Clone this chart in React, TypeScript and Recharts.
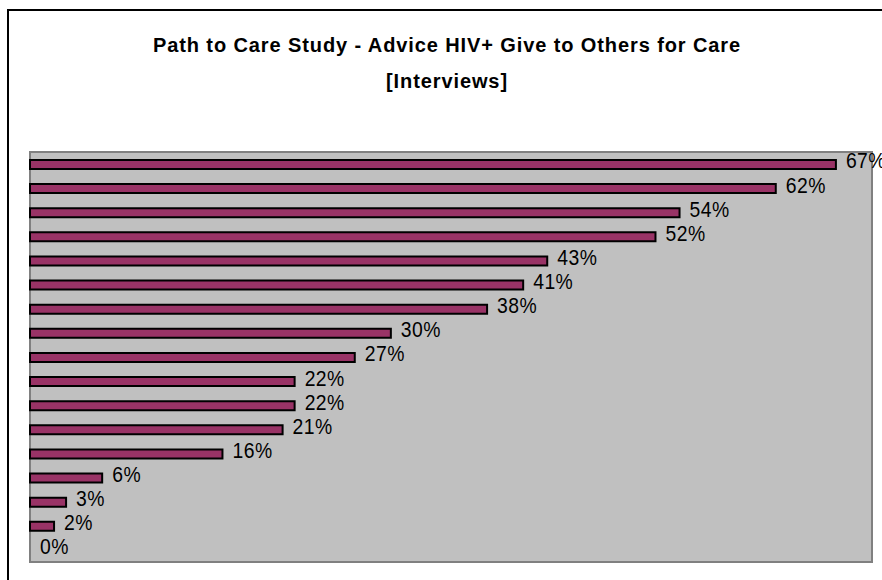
import { BarChart, Bar, Cell, XAxis, YAxis, CartesianGrid, ReferenceArea, LabelList } from "recharts";

const categories = [
  "Item 1", "Item 2", "Item 3", "Item 4", "Item 5", "Item 6", "Item 7", "Item 8", "Item 9",
  "Item 10", "Item 11", "Item 12", "Item 13", "Item 14", "Item 15", "Item 16", "Item 17",
];
const percents = [67, 62, 54, 52, 43, 41, 38, 30, 27, 22, 22, 21, 16, 6, 3, 2, 0];

const data = categories.map((name, i) => ({ name, value: percents[i] }));

const font = "'Liberation Sans', Arial, sans-serif";

// value label sits to the right of each bar, nudged up, squeezed a bit
const renderLabel = (props: any) => {
  const { x, y, width, height, value } = props;
  const lx = Number(x) + Number(width) + 10;
  const ly = Number(y) + Number(height) / 2 - 4;
  return (
    <text
      transform={`translate(${lx},${ly}) scale(0.88,1)`}
      dominantBaseline="central"
      fontFamily={font}
      fontSize={22}
      letterSpacing={0.5}
      fill="#000"
    >
      {value}%
    </text>
  );
};

export default function App() {
  return (
    <div style={{ position: "absolute", left: 0, top: 0, width: 882, height: 580, background: "#fff", overflow: "hidden" }}>
      <div
        style={{
          position: "absolute",
          left: 7,
          top: 9,
          right: -4,
          bottom: -4,
          borderLeft: "2px solid #000",
          borderTop: "2px solid #000",
        }}
      />
      <div
        style={{
          position: "absolute",
          left: 0,
          width: 894,
          top: 27,
          textAlign: "center",
          fontFamily: font,
          fontWeight: "bold",
          fontSize: 20,
          letterSpacing: 0.9,
          lineHeight: "36px",
          color: "#000",
        }}
      >
        <div>Path to Care Study - Advice HIV+ Give to Others for Care</div>
        <div>[Interviews]</div>
      </div>
      <div style={{ position: "absolute", left: 0, top: 0 }}>
        <BarChart
          width={882}
          height={580}
          data={data}
          layout="vertical"
          margin={{ top: 152, right: 10, left: 30, bottom: 18 }}
          barCategoryGap={0}
        >
          <CartesianGrid fill="#C0C0C0" horizontal={false} vertical={false} />
          <XAxis type="number" domain={[0, 70]} hide />
          <YAxis type="category" dataKey="name" hide width={0} />
          <ReferenceArea x1={0} x2={70} fill="none" stroke="#808080" strokeWidth={2} />
          <Bar
            dataKey="value"
            fill="#993366"
            stroke="#000"
            strokeWidth={2}
            barSize={9}
            minPointSize={0.01}
            isAnimationActive={false}
          >
            {data.map((d) => (
              <Cell key={d.name} stroke={d.value === 0 ? "none" : "#000"} />
            ))}
            <LabelList dataKey="value" content={renderLabel} />
          </Bar>
        </BarChart>
      </div>
    </div>
  );
}
